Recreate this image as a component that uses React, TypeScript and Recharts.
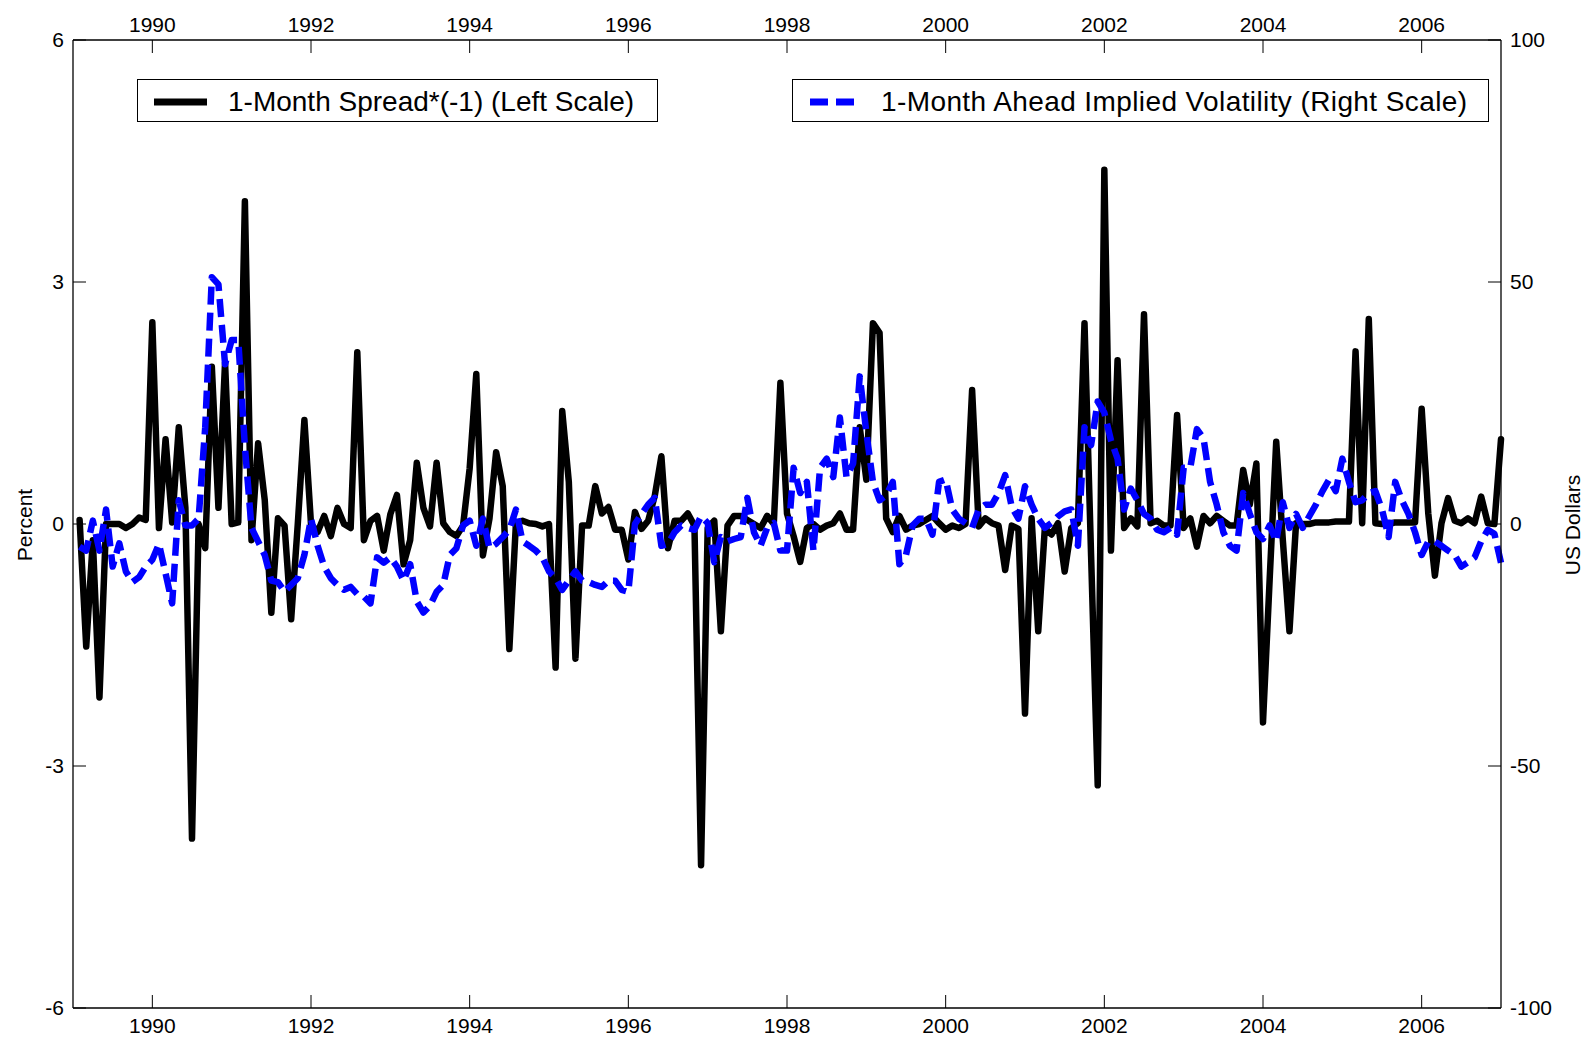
import { LineChart, Line, XAxis, YAxis } from 'recharts';

// monthly observations, Jan 1989 - Dec 2006 (12 per row)
const SPREAD = [
  0.05, -1.52, -0.2, -2.15, 0.0, 0.0, 0.0, -0.05, 0.0, 0.08, 0.05, 2.5, // 1989
  -0.05, 1.05, 0.02, 1.2, 0.2, -3.9, 0.0, -0.3, 1.95, 0.2, 2.0, 0.0, // 1990
  0.02, 4.0, -0.2, 1.0, 0.3, -1.1, 0.07, -0.02, -1.18, 0.0, 1.29, 0.0, // 1991
  -0.1, 0.1, -0.15, 0.2, 0.0, -0.05, 2.13, -0.2, 0.04, 0.1, -0.33, 0.12, // 1992
  0.36, -0.5, -0.2, 0.76, 0.2, -0.03, 0.76, 0.01, -0.1, -0.15, -0.02, 0.69, // 1993
  1.86, -0.39, 0.07, 0.89, 0.47, -1.55, 0.01, 0.04, 0.01, 0.0, -0.03, 0.0, // 1994
  -1.78, 1.4, 0.52, -1.67, -0.02, -0.02, 0.47, 0.13, 0.21, -0.07, -0.07, -0.44, // 1995
  0.15, -0.06, 0.04, 0.35, 0.84, -0.3, 0.04, 0.04, 0.13, -0.02, -4.23, -0.05, // 1996
  0.04, -1.33, -0.02, 0.1, 0.1, 0.05, 0.0, -0.05, 0.1, 0.0, 1.75, 0.13, // 1997
  -0.15, -0.47, -0.05, 0.0, -0.07, -0.02, 0.01, 0.13, -0.07, -0.07, 1.2, 0.55, // 1998
  2.49, 2.37, 0.07, -0.1, 0.1, -0.07, -0.02, 0.0, 0.05, 0.1, 0.01, -0.07, // 1999
  -0.02, -0.05, 0.0, 1.66, -0.03, 0.07, 0.01, -0.02, -0.57, -0.02, -0.06, -2.35, // 2000
  0.07, -1.33, -0.05, -0.13, 0.01, -0.59, -0.05, 0.01, 2.49, -0.4, -3.24, 4.39, // 2001
  -0.33, 2.03, -0.05, 0.07, -0.03, 2.6, 0.01, 0.04, -0.02, -0.02, 1.35, -0.05, // 2002
  0.07, -0.28, 0.1, 0.01, 0.1, 0.04, -0.02, -0.02, 0.67, 0.24, 0.75, -2.46, // 2003
  -0.7, 1.02, -0.2, -1.33, 0.01, 0.0, 0.0, 0.02, 0.02, 0.02, 0.03, 0.03, // 2004
  0.03, 2.14, 0.01, 2.54, 0.01, 0.0, 0.0, 0.02, 0.02, 0.02, 0.02, 1.43, // 2005
  0.13, -0.64, 0.01, 0.32, 0.04, 0.01, 0.07, 0.01, 0.34, 0.01, 0.0, 1.05, // 2006
];

const VOLATILITY = [
  -4.7, -5.5, 0.7, -5.5, 3.0, -8.8, -4.0, -9.8, -12, -11, -8.8, -7.4, // 1989
  -4.1, -10.2, -16.4, 4.9, -0.3, -0.3, 1.1, 20, 51, 49.5, 33, 38, // 1990
  38, 16, -0.8, -3.6, -6.4, -11.7, -12, -14, -12.6, -11.2, -6.4, 1.1, // 1991
  -4.5, -8.8, -11.2, -12.6, -13.6, -13, -14.5, -15, -16.4, -6.9, -8, -6.9, // 1992
  -8.8, -11.7, -8.3, -16, -18.3, -16.9, -14, -12.6, -6.4, -5.0, -0.3, 0.7, // 1993
  -4.5, 1.1, -5, -4.1, -2.7, -1.2, 3.0, -3.6, -4.5, -5.5, -6.9, -9.8, // 1994
  -11.2, -13.6, -11.7, -9.8, -11.7, -12, -12.6, -13, -11.7, -11.7, -13.6, -14, // 1995
  0, 2.1, 4, 5.4, -4.5, -4.1, -1.7, -0.3, -0.8, -1.2, 1.6, 0.2, // 1996
  -7.9, -2.7, -3.6, -3.1, -2.7, 5.4, -1.7, -4.5, -0.8, 0.2, -5.5, -5.5, // 1997
  11.6, 6.4, 8.7, -5.5, 11.6, 13.5, 9.7, 22, 9.7, 12.5, 30.5, 19, // 1998
  8.7, 4.9, 5.9, 8.7, -8.3, -6.4, -0.3, 1.1, 1.1, -2.2, 8.7, 9.2, // 1999
  3.0, 1.1, 0.2, -0.8, 3, 4, 4, 6.4, 10.1, 3.5, 1.1, 7.8, // 2000
  4, 1.1, -0.8, 0.2, 1.6, 2.6, 3, -4.5, 20, 16.3, 25.3, 23, // 2001
  17.3, 13.5, 3, 7.3, 4.9, 2.1, 1.1, -1.2, -1.7, -0.8, -2.2, 11.6, // 2002
  11.6, 19.6, 17.7, 8.7, 4, -1.7, -4.5, -5.5, 6.4, 2.1, -1.7, -3.1, // 2003
  -0.3, -3.6, 4.5, -0.8, 2.1, -0.8, 1.6, 4, 6.8, 9.2, 6.8, 13.5, // 2004
  8.7, 4.5, 4.9, 6.4, 6.8, 3, -2.7, 8.7, 4.9, 2.1, -1.7, -6.4, // 2005
  -3.6, -3.6, -4.5, -5.5, -6.4, -8.8, -7.9, -6.9, -3.6, -1.2, -2, -8, // 2006
];

const START_YEAR = 1989;
const YEAR_TICKS = [1990, 1992, 1994, 1996, 1998, 2000, 2002, 2004, 2006];
const LEFT_TICKS = [-6, -3, 0, 3, 6];
const RIGHT_TICKS = [-100, -50, 0, 50, 100];

const FONT = '"Liberation Sans", Arial, sans-serif';
const tickStyle = { fill: '#000', fontSize: 21, fontFamily: FONT };
const axisLine = { stroke: '#000', strokeWidth: 1.3 };
const DASH = '18 8';

const data = SPREAD.map((s, i) => ({
  t: START_YEAR + (i + 1) / 12,
  spread: s,
  vol: VOLATILITY[i],
}));

const legendBox: React.CSSProperties = {
  position: 'absolute',
  top: 79,
  height: 43,
  paddingTop: 3,
  border: '1.3px solid #000',
  background: '#fff',
  boxSizing: 'border-box',
  display: 'flex',
  alignItems: 'center',
  fontSize: 28,
  fontFamily: FONT,
  whiteSpace: 'nowrap',
};

export default function App() {
  return (
    <div style={{ position: 'absolute', left: 0, top: 0, width: 1585, height: 1040, background: '#fff', fontFamily: FONT }}>
      <LineChart width={1585} height={1040} data={data} margin={{ top: 0, right: 0, bottom: 0, left: 0 }}>
        <XAxis
          xAxisId="bottom"
          dataKey="t"
          type="number"
          domain={[1989, 2007]}
          ticks={YEAR_TICKS}
          height={32}
          tick={tickStyle}
          tickSize={-13}
          tickMargin={23}
          axisLine={axisLine}
          tickLine={{ stroke: '#000' }}
        />
        <XAxis
          xAxisId="top"
          orientation="top"
          dataKey="t"
          type="number"
          domain={[1989, 2007]}
          ticks={YEAR_TICKS}
          height={40}
          tick={tickStyle}
          tickSize={-13}
          tickMargin={21}
          axisLine={axisLine}
          tickLine={{ stroke: '#000' }}
        />
        <YAxis
          yAxisId="left"
          domain={[-6, 6]}
          ticks={LEFT_TICKS}
          width={73}
          tick={tickStyle}
          tickSize={-13}
          tickMargin={22}
          axisLine={axisLine}
          tickLine={{ stroke: '#000' }}
        />
        <YAxis
          yAxisId="right"
          orientation="right"
          domain={[-100, 100]}
          ticks={RIGHT_TICKS}
          width={84}
          tick={tickStyle}
          tickSize={-13}
          tickMargin={22}
          axisLine={axisLine}
          tickLine={{ stroke: '#000' }}
        />
        <Line
          xAxisId="bottom"
          yAxisId="left"
          type="linear"
          dataKey="spread"
          stroke="#000"
          strokeWidth={6.5}
          strokeLinejoin="round"
          strokeLinecap="round"
          dot={false}
          isAnimationActive={false}
        />
        <Line
          xAxisId="bottom"
          yAxisId="right"
          type="linear"
          dataKey="vol"
          stroke="#0000ff"
          strokeWidth={6.5}
          strokeDasharray={DASH}
          strokeLinejoin="round"
          dot={false}
          isAnimationActive={false}
        />
      </LineChart>

      <div style={{ ...legendBox, left: 137, width: 521 }}>
        <svg width={90} height={20} style={{ flex: 'none' }}>
          <line x1={16} y1={10} x2={69} y2={10} stroke="#000" strokeWidth={7} />
        </svg>
        <span>1-Month Spread*(-1) (Left Scale)</span>
      </div>
      <div style={{ ...legendBox, left: 792, width: 697 }}>
        <svg width={88} height={20} style={{ flex: 'none' }}>
          <line x1={17} y1={10} x2={68} y2={10} stroke="#0000ff" strokeWidth={7} strokeDasharray={DASH} />
        </svg>
        <span style={{ letterSpacing: 0.4 }}>1-Month Ahead Implied Volatility (Right Scale)</span>
      </div>

      <div style={{ position: 'absolute', left: 25, top: 525, transform: 'translate(-50%, -50%) rotate(-90deg)', fontSize: 21, whiteSpace: 'nowrap' }}>
        Percent
      </div>
      <div style={{ position: 'absolute', left: 1573, top: 525, transform: 'translate(-50%, -50%) rotate(-90deg)', fontSize: 21, whiteSpace: 'nowrap' }}>
        US Dollars
      </div>
    </div>
  );
}
